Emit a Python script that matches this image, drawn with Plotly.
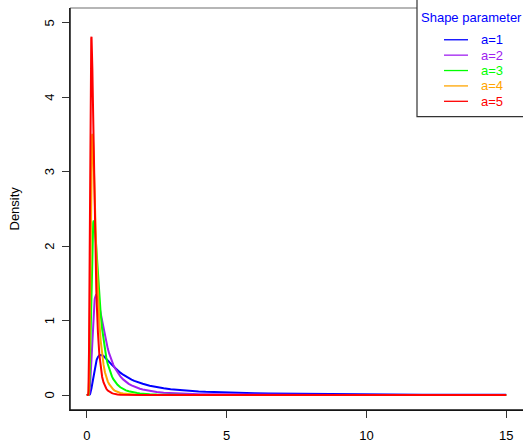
import plotly.graph_objects as go

# x positions (shared by all curves)
x = [0, 0.02, 0.04,
     0.05, 0.06, 0.07, 0.08, 0.09, 0.10, 0.11, 0.12, 0.13, 0.14, 0.15, 0.16, 0.17, 0.18, 0.19,
     0.20, 0.21, 0.22, 0.23, 0.24, 0.25, 0.26, 0.27, 0.28, 0.29, 0.30, 0.31, 0.32, 0.33, 0.34,
     0.35, 0.36, 0.37, 0.38, 0.39, 0.40,
     0.45, 0.50, 0.55, 0.60, 0.65, 0.70, 0.75, 0.80, 0.85, 0.90, 0.95, 1.0,
     1.1, 1.2, 1.3, 1.4, 1.5, 1.6, 1.7, 1.8, 1.9, 2.0,
     2.25, 2.5, 2.75, 3.0, 3.25, 3.5, 3.75, 4.0, 4.25, 4.5, 4.75, 5.0,
     5.5, 6.0, 6.5, 7.0, 7.5, 8.0, 8.5, 9.0, 9.5, 10.0, 10.5, 11.0, 11.5, 12.0,
     12.5, 13.0, 13.5, 14.0, 14.5, 15.0]

# density values
a1 = [0, 0, 0,
      0, 0, 0, 0.001, 0.002, 0.005, 0.009, 0.017, 0.027, 0.040, 0.057, 0.075, 0.096, 0.119, 0.143,
      0.168, 0.194, 0.219, 0.245, 0.269, 0.293, 0.316, 0.338, 0.359, 0.378, 0.396, 0.413, 0.429, 0.444, 0.457,
      0.469, 0.480, 0.490, 0.498, 0.506, 0.513,
      0.535, 0.541, 0.537, 0.525, 0.508, 0.489, 0.469, 0.448, 0.427, 0.406, 0.387, 0.368,
      0.333, 0.302, 0.274, 0.250, 0.228, 0.209, 0.192, 0.177, 0.164, 0.152,
      0.127, 0.107, 0.092, 0.080, 0.070, 0.061, 0.054, 0.049, 0.044, 0.040, 0.036, 0.033,
      0.028, 0.024, 0.020, 0.018, 0.016, 0.014, 0.012, 0.011, 0.010, 0.009, 0.008, 0.008, 0.007, 0.006,
      0.006, 0.005, 0.005, 0.005, 0.004, 0.004]

a2 = [0, 0, 0,
      0, 0, 0.002, 0.007, 0.021, 0.045, 0.085, 0.139, 0.208, 0.288, 0.377, 0.471, 0.568, 0.663, 0.755,
      0.842, 0.923, 0.997, 1.063, 1.122, 1.172, 1.215, 1.251, 1.281, 1.304, 1.321, 1.333, 1.341, 1.344, 1.343,
      1.340, 1.333, 1.323, 1.312, 1.298, 1.283,
      1.189, 1.083, 0.976, 0.874, 0.782, 0.699, 0.625, 0.560, 0.502, 0.452, 0.407, 0.368,
      0.303, 0.252, 0.211, 0.178, 0.152, 0.131, 0.113, 0.098, 0.086, 0.076,
      0.056, 0.043, 0.033, 0.027, 0.021, 0.018, 0.015, 0.012, 0.010, 0.009, 0.008, 0.007,
      0.005, 0.004, 0.003, 0.003, 0.002, 0.002, 0.001, 0.001, 0.001, 0.001, 0.001, 0.001, 0.001, 0,
      0, 0, 0, 0, 0, 0]

a3 = [0, 0, 0,
      0, 0.002, 0.013, 0.045, 0.114, 0.227, 0.385, 0.580, 0.799, 1.029, 1.257, 1.473, 1.669, 1.841, 1.987,
      2.106, 2.198, 2.266, 2.311, 2.336, 2.344, 2.337, 2.317, 2.287, 2.248, 2.202, 2.151, 2.095, 2.036, 1.976,
      1.914, 1.851, 1.788, 1.726, 1.664, 1.603,
      1.321, 1.083, 0.887, 0.729, 0.601, 0.499, 0.417, 0.350, 0.295, 0.251, 0.214, 0.184,
      0.138, 0.105, 0.081, 0.064, 0.051, 0.041, 0.033, 0.027, 0.023, 0.019,
      0.013, 0.009, 0.006, 0.004, 0.003, 0.003, 0.002, 0.002, 0.001, 0.001, 0.001, 0.001,
      0, 0, 0, 0, 0, 0, 0, 0, 0, 0, 0, 0, 0, 0,
      0, 0, 0, 0, 0, 0]

a4 = [0, 0, 0,
      0.001, 0.012, 0.062, 0.190, 0.422, 0.757, 1.166, 1.610, 2.048, 2.450, 2.793, 3.068, 3.273, 3.410, 3.486,
      3.509, 3.489, 3.433, 3.349, 3.245, 3.126, 2.997, 2.861, 2.723, 2.584, 2.447, 2.313, 2.182, 2.057, 1.937,
      1.822, 1.714, 1.611, 1.514, 1.422, 1.336,
      0.979, 0.722, 0.538, 0.405, 0.308, 0.238, 0.185, 0.146, 0.116, 0.093, 0.075, 0.061,
      0.042, 0.029, 0.021, 0.015, 0.011, 0.009, 0.007, 0.005, 0.004, 0.003,
      0.002, 0.001, 0.001, 0, 0, 0, 0, 0, 0, 0, 0, 0,
      0, 0, 0, 0, 0, 0, 0, 0, 0, 0, 0, 0, 0, 0,
      0, 0, 0, 0, 0, 0]

a5 = [0, 0, 0,
      0.005, 0.052, 0.221, 0.592, 1.172, 1.892, 2.650, 3.354, 3.939, 4.374, 4.655, 4.794, 4.813, 4.736, 4.587,
      4.387, 4.153, 3.901, 3.641, 3.380, 3.126, 2.881, 2.649, 2.431, 2.228, 2.039, 1.865, 1.705, 1.558, 1.424,
      1.302, 1.190, 1.088, 0.996, 0.912, 0.835,
      0.544, 0.361, 0.244, 0.169, 0.119, 0.085, 0.062, 0.046, 0.034, 0.026, 0.020, 0.015,
      0.009, 0.006, 0.004, 0.003, 0.002, 0.001, 0.001, 0.001, 0.001, 0,
      0, 0, 0, 0, 0, 0, 0, 0, 0, 0, 0, 0,
      0, 0, 0, 0, 0, 0, 0, 0, 0, 0, 0, 0, 0, 0,
      0, 0, 0, 0, 0, 0]

series = [a1, a2, a3, a4, a5]
labels = ["a=1", "a=2", "a=3", "a=4", "a=5"]
colors = ["#0000FF", "#A020F0", "#00FF00", "#FFA500", "#FF0000"]
legend_title = "Shape parameter"
y_title = "Density"
x_ticks = [0, 5, 10, 15]
y_ticks = [0, 1, 2, 3, 4, 5]

W, H = 523, 443
ML, MR, MT, MB = 70, 0, 8, 30
PW, PH = W - ML - MR, H - MT - MB


def px(xp):
    return (xp - ML) / PW


def py(yp):
    return (H - MB - yp) / PH


FONT = "Liberation Sans, Arial, Helvetica, sans-serif"

fig = go.Figure()
for vals, lab, col in zip(series, labels, colors):
    fig.add_trace(go.Scatter(x=x, y=vals, mode="lines", name=lab,
                             line=dict(color=col, width=2), showlegend=False))

shapes = []
annotations = []
# box lines: gray top, dark left and bottom
shapes.append(dict(type="line", xref="paper", yref="paper", x0=0, x1=1.01, y0=1, y1=1,
                   line=dict(color="#6e6e6e", width=1.2)))
shapes.append(dict(type="line", xref="paper", yref="paper", x0=0, x1=0, y0=0, y1=1,
                   line=dict(color="#222222", width=1.6)))
shapes.append(dict(type="line", xref="paper", yref="paper", x0=0, x1=1.01, y0=0, y1=0,
                   line=dict(color="#111111", width=1.6)))
# legend box
shapes.append(dict(type="rect", xref="paper", yref="paper",
                   x0=px(417), x1=px(530), y0=py(117.5), y1=py(-3),
                   line=dict(color="#333333", width=1.2), fillcolor="white"))
annotations.append(dict(text=legend_title, xref="paper", yref="paper", x=px(419), y=py(18),
                        xanchor="left", yanchor="middle", showarrow=False,
                        font=dict(family=FONT, size=13, color="#0000FF")))
item_y = [40, 55.5, 71, 86.5, 102]
for lab, col, yy in zip(labels, colors, item_y):
    shapes.append(dict(type="line", xref="paper", yref="paper", x0=px(444), x1=px(468),
                       y0=py(yy), y1=py(yy), line=dict(color=col, width=1.3)))
    annotations.append(dict(text=lab, xref="paper", yref="paper", x=px(479), y=py(yy),
                            xanchor="left", yanchor="middle", showarrow=False,
                            font=dict(family=FONT, size=13, color=col)))
# y tick labels (rotated, as in the reference)
for t in y_ticks:
    annotations.append(dict(text=str(t), xref="paper", yref="y", x=px(49.5), y=t,
                            xanchor="center", yanchor="middle", textangle=-90, showarrow=False,
                            font=dict(family=FONT, size=13, color="black")))
# y-axis title
annotations.append(dict(text=y_title, xref="paper", yref="paper", x=px(15), y=py(210),
                        xanchor="center", yanchor="middle", textangle=-90, showarrow=False,
                        font=dict(family=FONT, size=13, color="black")))

fig.update_layout(
    width=W, height=H,
    margin=dict(l=ML, r=MR, t=MT, b=MB, pad=0),
    paper_bgcolor="white", plot_bgcolor="white",
    font=dict(family=FONT, size=13, color="black"),
    shapes=shapes, annotations=annotations,
    showlegend=False,
)
fig.update_xaxes(range=[-0.6, 15.6], tickvals=x_ticks, ticktext=[str(t) for t in x_ticks],
                 showgrid=False, zeroline=False, showline=True, linecolor="#222222", linewidth=1,
                 ticks="outside", ticklen=7, tickcolor="#333333", tickwidth=1,
                 tickfont=dict(size=13), ticklabelstandoff=6)
fig.update_yaxes(range=[-0.2, 5.2], tickvals=y_ticks, showticklabels=False,
                 showgrid=False, zeroline=False, showline=True, linecolor="#333333", linewidth=1,
                 ticks="outside", ticklen=7, tickcolor="#333333", tickwidth=1)

fig.write_html("out.html", config={"displayModeBar": False},
               post_script="document.body.style.margin='0';document.body.style.overflow='hidden';")
